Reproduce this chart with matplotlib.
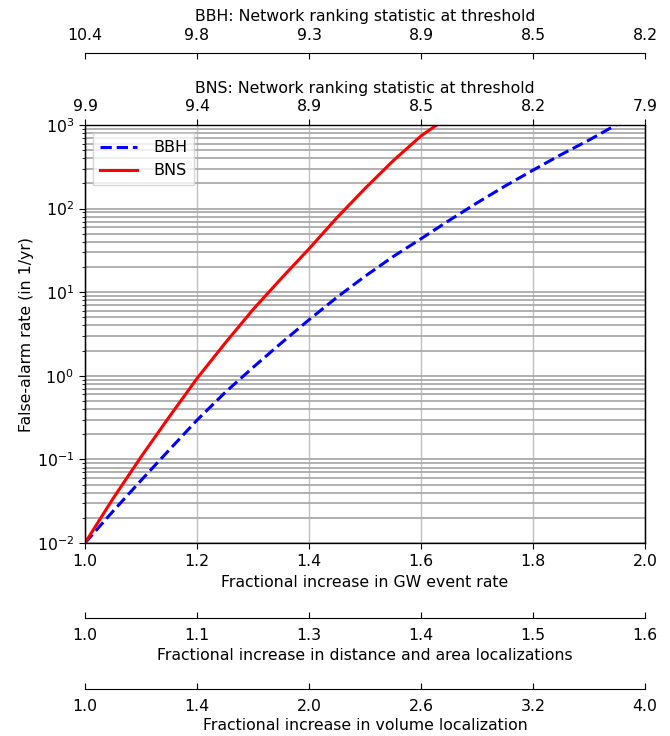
import matplotlib
matplotlib.use("Agg")
import matplotlib.pyplot as plt
import numpy as np

# ---- data ----
bbh_rate = [1.0, 1.05, 1.1, 1.15, 1.2, 1.25, 1.3, 1.35, 1.4, 1.45, 1.5, 1.55,
            1.6, 1.65, 1.7, 1.75, 1.8, 1.85, 1.9, 1.948]
bbh_far = [0.01, 0.024, 0.056, 0.129, 0.295, 0.63, 1.26, 2.45, 4.68, 8.7, 15.5, 26.6,
           43.6, 72, 117, 186, 288, 442, 660, 1000]

bns_rate = [1.0, 1.05, 1.1, 1.15, 1.2, 1.25, 1.3, 1.35, 1.4, 1.45, 1.5, 1.55, 1.6, 1.628]
bns_far = [0.01, 0.034, 0.107, 0.32, 0.93, 2.45, 6.2, 14.5, 33, 78, 174, 372, 740, 1000]

rate_ticks = [1.0, 1.2, 1.4, 1.6, 1.8, 2.0]
rate_labels = ["1.0", "1.2", "1.4", "1.6", "1.8", "2.0"]
bns_labels = ["9.9", "9.4", "8.9", "8.5", "8.2", "7.9"]
bbh_labels = ["10.4", "9.8", "9.3", "8.9", "8.5", "8.2"]
dist_labels = ["1.0", "1.1", "1.3", "1.4", "1.5", "1.6"]
vol_labels = ["1.0", "1.4", "2.0", "2.6", "3.2", "4.0"]

plt.rcParams["font.size"] = 11.3

W, H = 670, 736
fig = plt.figure(figsize=(W / 100, H / 100), dpi=100)
ax = fig.add_axes([85 / W, 1 - 543 / H, 560 / W, 418 / H])

ax.plot(bbh_rate, bbh_far, color="blue", ls="--", lw=2.2, label="BBH")
ax.plot(bns_rate, bns_far, color="red", ls="-", lw=2.2, label="BNS")
ax.set_yscale("log")
ax.set_xlim(1.0, 2.0)
ax.set_ylim(1e-2, 1e3)
ax.set_xticks(rate_ticks)
ax.set_xticklabels(rate_labels)
ax.tick_params(axis="both", which="major", length=4.5)
ax.tick_params(axis="y", which="minor", length=2.5)
ax.grid(True, which="major", axis="x", color="#c0c0c0", lw=1.0)
ax.grid(True, which="both", axis="y", color="#aaaaaa", lw=1.3)
ax.set_xlabel("Fractional increase in GW event rate", labelpad=4)
ax.set_ylabel("False-alarm rate (in 1/yr)", labelpad=2)
ax.legend(loc="upper left", fontsize=11.5, handlelength=2.3, handletextpad=1.0,
          borderpad=0.45, borderaxespad=0.5, fancybox=False)

px2pt = 72 / 100

# BNS top axis
ax_bns = ax.twiny()
ax_bns.set_xlim(1.0, 2.0)
ax_bns.set_xticks(rate_ticks)
ax_bns.set_xticklabels(bns_labels)
ax_bns.tick_params(axis="x", length=4.5)
ax_bns.set_xlabel("BNS: Network ranking statistic at threshold", labelpad=4.5)

# BBH top axis (offset)
ax_bbh = ax.twiny()
ax_bbh.set_xlim(1.0, 2.0)
ax_bbh.set_xticks(rate_ticks)
ax_bbh.set_xticklabels(bbh_labels)
ax_bbh.spines["top"].set_position(("outward", 72 * px2pt))
ax_bbh.tick_params(axis="x", direction="in", length=4.5, pad=7)
ax_bbh.set_xlabel("BBH: Network ranking statistic at threshold", labelpad=5)

# Bottom: distance / area
ax_d = ax.twiny()
ax_d.set_xlim(1.0, 2.0)
ax_d.xaxis.set_ticks_position("bottom")
ax_d.xaxis.set_label_position("bottom")
ax_d.spines["bottom"].set_position(("outward", 75 * px2pt))
ax_d.set_xticks(rate_ticks)
ax_d.set_xticklabels(dist_labels)
ax_d.tick_params(axis="x", direction="in", length=4.5, pad=7)
ax_d.set_xlabel("Fractional increase in distance and area localizations", labelpad=4)

# Bottom: volume
ax_v = ax.twiny()
ax_v.set_xlim(1.0, 2.0)
ax_v.xaxis.set_ticks_position("bottom")
ax_v.xaxis.set_label_position("bottom")
ax_v.spines["bottom"].set_position(("outward", 146 * px2pt))
ax_v.set_xticks(rate_ticks)
ax_v.set_xticklabels(vol_labels)
ax_v.tick_params(axis="x", direction="in", length=4.5, pad=7)
ax_v.set_xlabel("Fractional increase in volume localization", labelpad=3)

fig.savefig("out.png", dpi=100)
